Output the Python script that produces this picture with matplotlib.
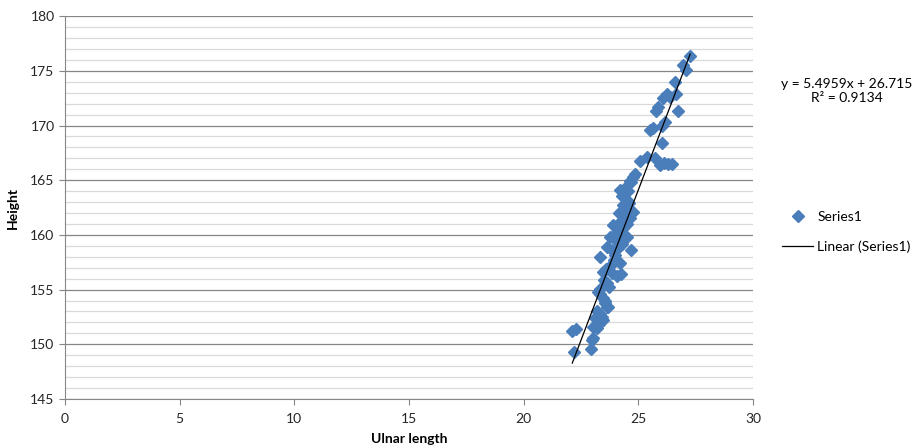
import matplotlib.pyplot as plt
from matplotlib.ticker import MultipleLocator
from matplotlib.lines import Line2D

plt.rcParams['font.family'] = ['Lato', 'DejaVu Sans']

# ulnar length (cm) and height (cm)
ulnar = [27.26, 26.95, 27.08, 26.60, 26.25, 26.38, 26.65, 26.08, 25.86, 25.77,
         26.73, 26.17, 26.02, 25.50, 25.65, 26.02, 25.08, 25.37, 25.73, 25.95,
         26.30, 26.10, 26.45, 24.78, 24.64, 24.20, 24.42, 24.50, 24.35, 24.78,
         24.64, 24.20, 24.06, 23.77, 23.90, 24.50, 23.62, 24.70, 23.33, 23.99,
         24.20, 23.48, 24.06, 23.62, 23.25, 23.33, 23.62, 23.33, 23.48, 23.04,
         22.30, 22.12, 22.97, 22.92, 22.20, 24.70, 24.55, 24.30, 24.45, 24.60,
         24.30, 24.50, 24.35, 24.20, 24.05, 24.30, 23.85, 24.10, 23.95, 23.75,
         23.60, 23.85, 23.50, 23.70, 23.45, 23.55, 23.20, 23.10, 23.30, 23.68,
         23.40, 23.19, 23.03, 23.33, 23.55, 24.25, 24.85, 24.40, 24.15, 23.90]
height = [176.4, 175.5, 175.1, 174.0, 172.9, 172.6, 172.9, 172.5, 171.7, 171.3,
          171.3, 170.3, 170.0, 169.6, 169.8, 168.4, 166.8, 167.1, 167.0, 166.4,
          166.5, 166.6, 166.5, 165.3, 164.9, 164.1, 164.3, 163.2, 162.7, 162.1,
          161.5, 161.2, 160.3, 159.8, 159.8, 159.8, 158.9, 158.6, 158.0, 158.2,
          157.4, 156.6, 156.2, 155.6, 154.8, 154.6, 153.4, 152.8, 152.2, 151.6,
          151.4, 151.2, 150.4, 149.6, 149.3, 164.8, 164.0, 163.6, 162.4, 162.9,
          161.8, 161.0, 160.6, 160.0, 159.4, 159.2, 158.6, 158.8, 157.7, 157.2,
          156.9, 156.5, 155.9, 155.2, 154.2, 153.8, 153.0, 152.4, 151.9, 153.4,
          152.5, 151.5, 150.6, 155.1, 154.0, 156.4, 165.6, 163.9, 162.0, 160.9]

# trendline as reported on the chart
slope = 5.4959
intercept = 26.715
r2 = 0.9134

blue = '#4A7EBB'
grey = '#868686'

fig = plt.figure(figsize=(9.22, 4.48), dpi=100)
ax = fig.add_axes([0.0705, 0.1094, 0.7462, 0.8546])

ax.set_xlim(0, 30)
ax.set_ylim(145, 180)
ax.xaxis.set_major_locator(MultipleLocator(5))
ax.yaxis.set_major_locator(MultipleLocator(5))
ax.yaxis.set_minor_locator(MultipleLocator(1))
ax.grid(True, which='major', axis='y', color=grey, lw=0.9)
ax.grid(True, which='minor', axis='y', color='#d9d9d9', lw=0.9)
ax.set_axisbelow(True)
for s in ['top', 'right']:
    ax.spines[s].set_visible(False)
for s in ['left', 'bottom']:
    ax.spines[s].set_color(grey)
ax.tick_params(which='major', direction='out', length=4, color=grey,
               labelsize=10, labelcolor='#262626')
ax.tick_params(which='minor', length=0)
ax.tick_params(axis='x', pad=6)

ax.plot(ulnar, height, 'D', color=blue, ms=6.5, mec=blue, zorder=3)
xs = [min(ulnar), max(ulnar)]
ax.plot(xs, [slope * x + intercept for x in xs], color='black', lw=0.9, zorder=4)

ax.set_xlabel('Ulnar length', fontweight='bold', fontsize=10, labelpad=6)
ax.set_ylabel('Height', fontweight='bold', fontsize=10, labelpad=8)

fig.text(0.918, 0.797, f'y = {slope}x + {intercept}\nR² = {r2}', ha='center',
         va='center', fontsize=10, linespacing=1.15)

handles = [Line2D([], [], ls='none', marker='D', color=blue, ms=6),
           Line2D([], [], color='black', lw=0.9)]
fig.legend(handles, ['Series1', 'Linear (Series1)'], loc='center left',
           bbox_to_anchor=(0.835, 0.483), frameon=False, fontsize=10,
           handlelength=2.2, labelspacing=1.25, handletextpad=0.3)

fig.savefig('out.png', dpi=100)
